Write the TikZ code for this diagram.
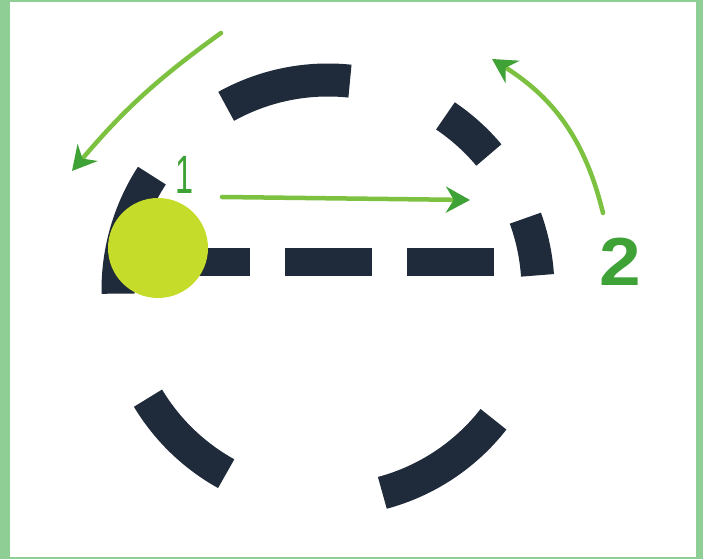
\documentclass[tikz,border=0pt]{standalone}
\usepackage{fontspec}
\setmainfont{Liberation Sans}
\usetikzlibrary{arrows.meta}
\definecolor{navy}{HTML}{1F2A3A}
\definecolor{dotgreen}{HTML}{C6DC2A}
\definecolor{pen}{HTML}{7CC240}
\definecolor{pendark}{HTML}{3FA236}
\definecolor{framegreen}{HTML}{8FCF96}
\begin{document}
\begin{tikzpicture}[x=1pt,y=1pt,
  ring/.style={draw=navy, line width=33pt},
  penarrow/.style={draw=pen, line width=4.5pt, line cap=round,
    -{Stealth[length=24pt,width=26pt,fill=pendark,color=pendark]}},
  digit/.style={text=pendark, inner sep=0pt}]
% frame and page
\fill[framegreen] (0,0) rectangle (703,559);
\fill[white] (10,2) rectangle (696,557);
\useasboundingbox (0,0) rectangle (703,559);
% dashed circle
\coordinate (O) at (328,269);
\draw[ring] (O) ++(147:210) arc[start angle=147, end angle=181, radius=210];
\draw[ring] (O) ++(84:210) arc[start angle=84, end angle=119, radius=210];
\draw[ring] (O) ++(40:210) arc[start angle=40, end angle=56, radius=210];
\draw[ring] (O) ++(4:210) arc[start angle=4, end angle=20, radius=210];
\draw[ring] (O) ++(211:210) arc[start angle=211, end angle=241, radius=210];
\draw[ring] (O) ++(285:210) arc[start angle=285, end angle=322, radius=210];
% dashed radius
\coordinate (r0) at (163,297);
\coordinate (r1) at (494,297);
\draw[navy, line width=28pt, dash pattern=on 87pt off 35pt] (r0) -- (r1);
% dot
\node[circle, fill=dotgreen, minimum size=100pt, inner sep=0pt] (dot) at (158,311) {};
% arrows
\coordinate (a1s) at (221,526);
\coordinate (a1e) at (72,388);
\draw[penarrow] (a1s) to[bend right=7] (a1e);
\coordinate (a2s) at (222,362);
\coordinate (a2e) at (470,359);
\draw[penarrow] (a2s) -- (a2e);
\coordinate (a3s) at (603,346);
\coordinate (a3e) at (492,500);
\draw[penarrow] (a3s) to[bend right=22] (a3e);
% labels
\node[digit, xscale=0.6, font=\fontsize{54}{54}\selectfont] (n1) at (185,384) {1};
\node[digit, xscale=1.1, font=\bfseries\fontsize{68}{68}\selectfont] (n2) at (620,297) {2};
\end{tikzpicture}
\end{document}
